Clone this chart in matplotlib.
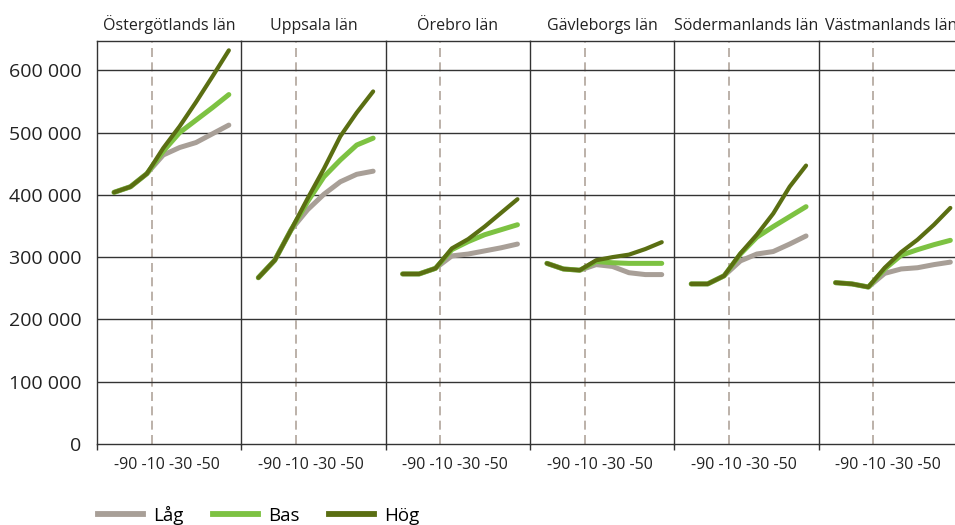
import matplotlib.pyplot as plt
from matplotlib.lines import Line2D

plt.rcParams['font.family'] = ['Open Sans', 'DejaVu Sans']

regions = ["Östergötlands län", "Uppsala län", "Örebro län",
           "Gävleborgs län", "Södermanlands län", "Västmanlands län"]
years = [1990, 2000, 2010, 2020, 2030, 2040, 2050, 2060]
xtick_labels = ["-90", "-10", "-30", "-50"]
series_names = ["Låg", "Bas", "Hög"]

# thousands of inhabitants
lag = [
    [404, 413, 434, 464, 476, 484, 498, 512],
    [267, 295, 344, 376, 401, 421, 433, 438],
    [273, 273, 282, 302, 305, 310, 315, 321],
    [290, 281, 279, 288, 285, 275, 272, 272],
    [257, 257, 270, 294, 305, 309, 321, 334],
    [259, 257, 252, 274, 281, 283, 288, 292],
]
bas = [
    [404, 413, 434, 470, 500, 520, 540, 561],
    [267, 295, 344, 389, 429, 456, 480, 491],
    [273, 273, 282, 312, 325, 336, 344, 352],
    [290, 281, 279, 293, 291, 290, 290, 290],
    [257, 257, 270, 305, 332, 349, 365, 381],
    [259, 257, 252, 281, 303, 312, 320, 327],
]
hog = [
    [404, 413, 434, 475, 510, 549, 590, 632],
    [267, 295, 344, 394, 442, 494, 532, 566],
    [273, 273, 282, 314, 329, 349, 371, 393],
    [290, 281, 279, 295, 300, 304, 313, 324],
    [257, 257, 270, 306, 336, 370, 413, 447],
    [259, 257, 252, 283, 308, 328, 352, 379],
]
yticks = [0, 100000, 200000, 300000, 400000, 500000, 600000]
forecast_start = 2013

colors = {"Låg": "#a89f97", "Bas": "#7dc242", "Hög": "#5a6e12"}
widths = {"Låg": 3.6, "Bas": 3.6, "Hög": 3.0}
grid_col = "#333333"

fig = plt.figure(figsize=(9.55, 5.25), dpi=100)
left, bottom, height = 97 / 955, 81 / 525, 403 / 525
pw = 144.3 / 955

for i, name in enumerate(regions):
    ax = fig.add_axes([left + i * pw, bottom, pw, height])
    for sname, vals in zip(series_names, [lag[i], bas[i], hog[i]]):
        ax.plot(years, [v * 1000 for v in vals], color=colors[sname],
                lw=widths[sname], solid_capstyle="round", solid_joinstyle="round",
                zorder=3)
    ax.axvline(forecast_start, color="#b0a49b", lw=1.2, dashes=(5.4, 3.2), zorder=1)
    ax.set_xlim(1979.6, 2067.6)
    ax.set_ylim(0, 647000)
    ax.set_yticks(yticks)
    for y in yticks[1:]:
        ax.axhline(y, color=grid_col, lw=1.0, zorder=2)
    for s in ax.spines.values():
        s.set_color(grid_col)
        s.set_linewidth(1.0)
    ax.spines["right"].set_visible(False)
    ax.set_xticks([1979.6])
    ax.set_xticklabels([""])
    ax.tick_params(axis="x", length=4, width=1.0, color=grid_col)
    if i == 0:
        ax.set_yticklabels([f"{v:,}".replace(",", " ") for v in yticks])
        ax.tick_params(axis="y", length=0, pad=11, labelsize=14, colors="#222222")
    else:
        ax.tick_params(axis="y", length=0, labelleft=False)
    ax.set_title(name, fontsize=11.5, pad=8, color="#222222")
    ax.text(0.482, -0.052, " ".join(xtick_labels), transform=ax.transAxes,
            ha="center", va="center", fontsize=11.5, color="#222222")

handles = [Line2D([], [], color=colors[s], lw=4.2) for s in series_names]
fig.legend(handles, series_names, loc="center left", bbox_to_anchor=(98 / 955, 10 / 525),
           ncol=3, frameon=False, fontsize=13.5, handlelength=2.4, handletextpad=0.55,
           columnspacing=1.55, borderpad=0, borderaxespad=0)

fig.savefig("out.png", dpi=100)
